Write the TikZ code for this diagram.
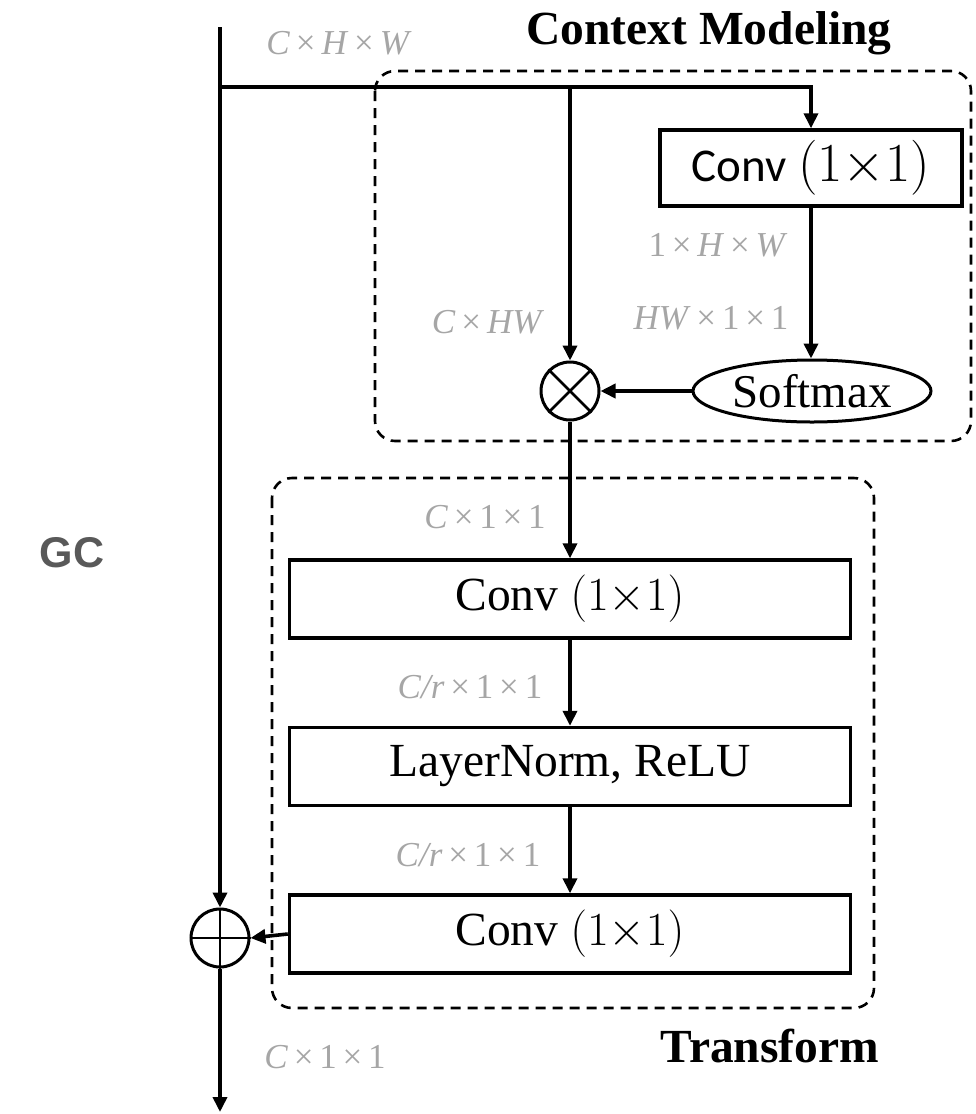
\RequirePackage{fix-cm}
\documentclass[tikz,border=0pt]{standalone}
\usepackage{fontspec}
\setmainfont{Liberation Serif}
\newfontfamily\calibrifont{Carlito}
\newfontfamily\arialfont{Liberation Sans}
\usetikzlibrary{arrows.meta,shapes.geometric}

\definecolor{dimtext}{HTML}{A6A6A6}
\definecolor{gctext}{HTML}{595959}

% multiplication sign used in the tensor-shape labels
\newcommand{\shapex}{\,×\,}

\begin{document}
\begin{tikzpicture}[x=1pt,y=-1pt,
  conn/.style={line width=3.6pt,-{Triangle[length=15pt,width=14pt]}},
  block/.style={draw,line width=3.4pt,inner sep=0pt,minimum width=561pt,
    minimum height=78pt,font=\fontsize{47.5}{50}\selectfont},
  topblock/.style={block,minimum width=302pt,minimum height=76pt,
    font=\fontsize{47}{50}\selectfont},
  opcircle/.style={circle,draw,line width=3pt,minimum size=58pt,inner sep=0pt},
  groupframe/.style={dashed,dash pattern=on 10pt off 7pt,line width=2.6pt,
    rounded corners=20pt},
  dimlabel/.style={text=dimtext,inner sep=0pt,font=\fontsize{35}{37}\selectfont},
  title/.style={inner sep=0pt,font=\fontsize{47.5}{50}\selectfont\bfseries},
]
\useasboundingbox (0,0) rectangle (975,1114);

% dashed group frames
\draw[groupframe] (375,71) rectangle (971,441);
\draw[groupframe] (272,478) rectangle (874,1008);

% titles
\node[title] (tctx) at (709,33) {Context Modeling};
\node[title] (ttr) at (770,1046) {Transform};
\node[inner sep=0pt,text=gctext,font=\arialfont\fontsize{43}{46}\selectfont\bfseries]
  (gc) at (72,553) {GC};

% blocks
\node[topblock] (convA) at (811,168)
  {{\calibrifont Conv} {\fontsize{55}{57}\selectfont$(1{\times}1)$}};
\node[ellipse,draw,line width=3pt,minimum width=238pt,minimum height=62pt,
  inner sep=0pt,font=\fontsize{47}{50}\selectfont] (soft) at (812,391) {Softmax};
\node[opcircle] (mul) at (570,391) {};
\draw[line width=2.6pt] (mul.north west) -- (mul.south east)
                        (mul.north east) -- (mul.south west);

\node[block] (conv1) at (570,599) {Conv $(1{\times}1)$};
\node[block] (ln) at (570,766.5) {LayerNorm, ReLU};
\node[block] (conv2) at (570,934) {Conv $(1{\times}1)$};

\node[opcircle] (add) at (220,938) {};
\draw[line width=2.6pt] (add.north) -- (add.south)
                        (add.west) -- (add.east);

% free ends of the main path
\coordinate (in) at (220,27);
\coordinate (split) at (220,87);
\coordinate (tap) at (570,87);
\coordinate (out) at (220,1112);

% connectors
\draw[conn] (in) -- (add.north);
\draw[conn] (split) -| (convA.north);
\draw[conn] (tap) -- (mul.north);
\draw[conn] (convA.south) -- (convA.south |- soft.north);
\draw[conn] (soft.west) -- (mul.east);
\draw[conn] (mul.south) -- (conv1.north);
\draw[conn] (conv1.south) -- (ln.north);
\draw[conn] (ln.south) -- (conv2.north);
\draw[conn] (conv2.west) -- (add.east);
\draw[conn] (add.south) -- (out);

% tensor shapes
\node[dimlabel] (sIn) at (339,43) {\textit{C}\shapex\textit{H}\shapex\textit{W}};
\node[dimlabel] (sA) at (718,245) {1\shapex\textit{H}\shapex\textit{W}};
\node[dimlabel] (sB) at (488,322) {\textit{C}\shapex\textit{HW}};
\node[dimlabel] (sC) at (711,318) {\textit{HW}\shapex1\shapex1};
\node[dimlabel] (sD) at (485,517) {\textit{C}\shapex1\shapex1};
\node[dimlabel] (sE) at (470,687) {\textit{C/r}\shapex1\shapex1};
\node[dimlabel] (sF) at (468,855) {\textit{C/r}\shapex1\shapex1};
\node[dimlabel] (sG) at (325,1057) {\textit{C}\shapex1\shapex1};
\end{tikzpicture}
\end{document}
